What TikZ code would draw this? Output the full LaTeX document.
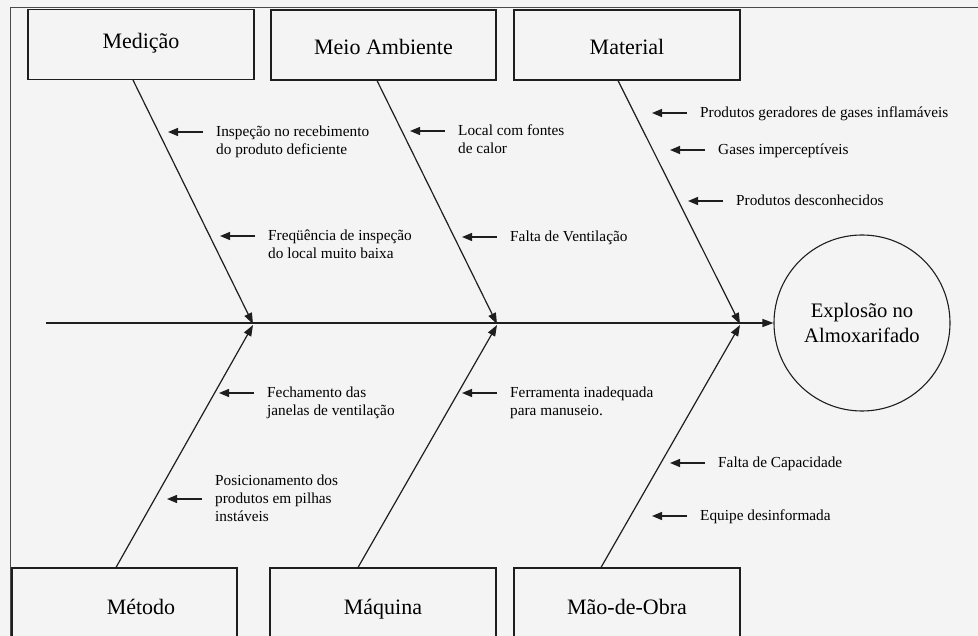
\documentclass[tikz,border=0pt]{standalone}
\usepackage{fontspec}
\setmainfont{Liberation Serif}
\usetikzlibrary{arrows.meta}
\definecolor{paper}{HTML}{F4F4F4}
\definecolor{ink}{HTML}{1E1E1E}
\definecolor{frame}{HTML}{4A4A4A}
\begin{document}
\begin{tikzpicture}[x=1pt,y=-1pt,
  catbox/.style={draw=ink, line width=1.1pt, minimum width=226pt, minimum height=70pt,
    inner sep=0pt, font=\fontsize{22}{25}\selectfont, text=black,
    text height=16pt, text depth=4pt},
  highlabel/.style={text height=14pt, text depth=6pt},
  lowlabel/.style={text height=22pt, text depth=2pt},
  effect/.style={circle, draw=ink, line width=1.1pt, minimum size=176pt, inner sep=0pt,
    align=center, font=\fontsize{20.6}{25}\selectfont, text=black},
  spine/.style={draw=ink, line width=1.3pt},
  bone/.style={draw=ink, line width=1.2pt, -{Triangle[length=11pt,width=8pt]}},
  cause/.style={anchor=north west, inner sep=0pt, align=left,
    font=\fontsize{15.3}{18}\selectfont, text=black},
  carrow/.style={draw=ink, line width=1.3pt, -{Triangle[length=10pt,width=8pt]}},
]
% page and outer frame
\fill[paper] (0,0) rectangle (978,636);
\useasboundingbox (0,0) rectangle (978,636);
\clip (0,0) rectangle (978,636);
\draw[frame, line width=1pt] (10,636) -- (10,8) -- (978,8);

% category boxes
\node[catbox, highlabel] (med) at (141,44.5) {Medição};
\node[catbox, lowlabel, minimum width=225pt] (mei) at (383.5,45) {Meio Ambiente};
\node[catbox, lowlabel] (mat) at (627,45) {Material};
\node[catbox, minimum width=225pt, minimum height=80pt] (met) at (124.5,608) {\hspace*{33pt}Método};
\node[catbox, minimum height=80pt] (maq) at (383,608) {Máquina};
\node[catbox, minimum height=80pt] (mao) at (627,608) {Mão-de-Obra};

% effect
\node[effect] (eff) at (862,323) {Explosão no\\Almoxarifado};

% spine and joints
\coordinate (tail) at (46,323);
\coordinate (j1) at (253,323);
\coordinate (j2) at (497,323);
\coordinate (j3) at (740,323);
\draw[spine] (tail) -- (j3);
\draw[spine, -{Triangle[length=11pt,width=8pt]}] (j3) -- (eff.west);

% bones
\draw[bone] ([xshift=-8pt]med.south) -- ([yshift=-1pt]j1);
\draw[bone] ([xshift=-6.5pt]mei.south) -- ([yshift=-1pt]j2);
\draw[bone] ([xshift=-9pt]mat.south) -- ([yshift=-1pt]j3);
\draw[bone] ([xshift=-8.5pt]met.north) -- ([yshift=-2pt]j1);
\draw[bone] ([xshift=-25pt]maq.north) -- ([yshift=-2pt]j2);
\draw[bone] ([xshift=-26pt]mao.north) -- ([yshift=-2pt]j3);

% causes
\node[cause] (c1) at (216,126) {Inspeção no recebimento\\do produto deficiente};
\node[cause] (c2) at (268,230) {Freqüência de inspeção\\do local muito baixa};
\node[cause] (c3) at (458,125) {Local com fontes\\de calor};
\node[cause] (c4) at (510,231) {Falta de Ventilação};
\node[cause] (c5) at (700,107) {Produtos geradores de gases inflamáveis};
\node[cause] (c6) at (718,144) {Gases imperceptíveis};
\node[cause] (c7) at (736,195) {Produtos desconhecidos};
\node[cause] (c8) at (267,387) {Fechamento das\\janelas de ventilação};
\node[cause] (c9) at (215,475) {Posicionamento dos\\produtos em pilhas\\instáveis};
\node[cause] (c10) at (510,387) {Ferramenta inadequada\\para manuseio.};
\node[cause] (c11) at (718,457) {Falta de Capacidade};
\node[cause] (c12) at (700,510) {Equipe desinformada};

\foreach \c in {c1,c2,c3,c4,c5,c6,c7,c8,c10,c11,c12}
  \draw[carrow] ([shift={(-13pt,-6pt)}]\c.north west) -- ++(-35,0);
\draw[carrow] ([shift={(-13pt,-24pt)}]c9.north west) -- ++(-35,0);
\end{tikzpicture}
\end{document}
